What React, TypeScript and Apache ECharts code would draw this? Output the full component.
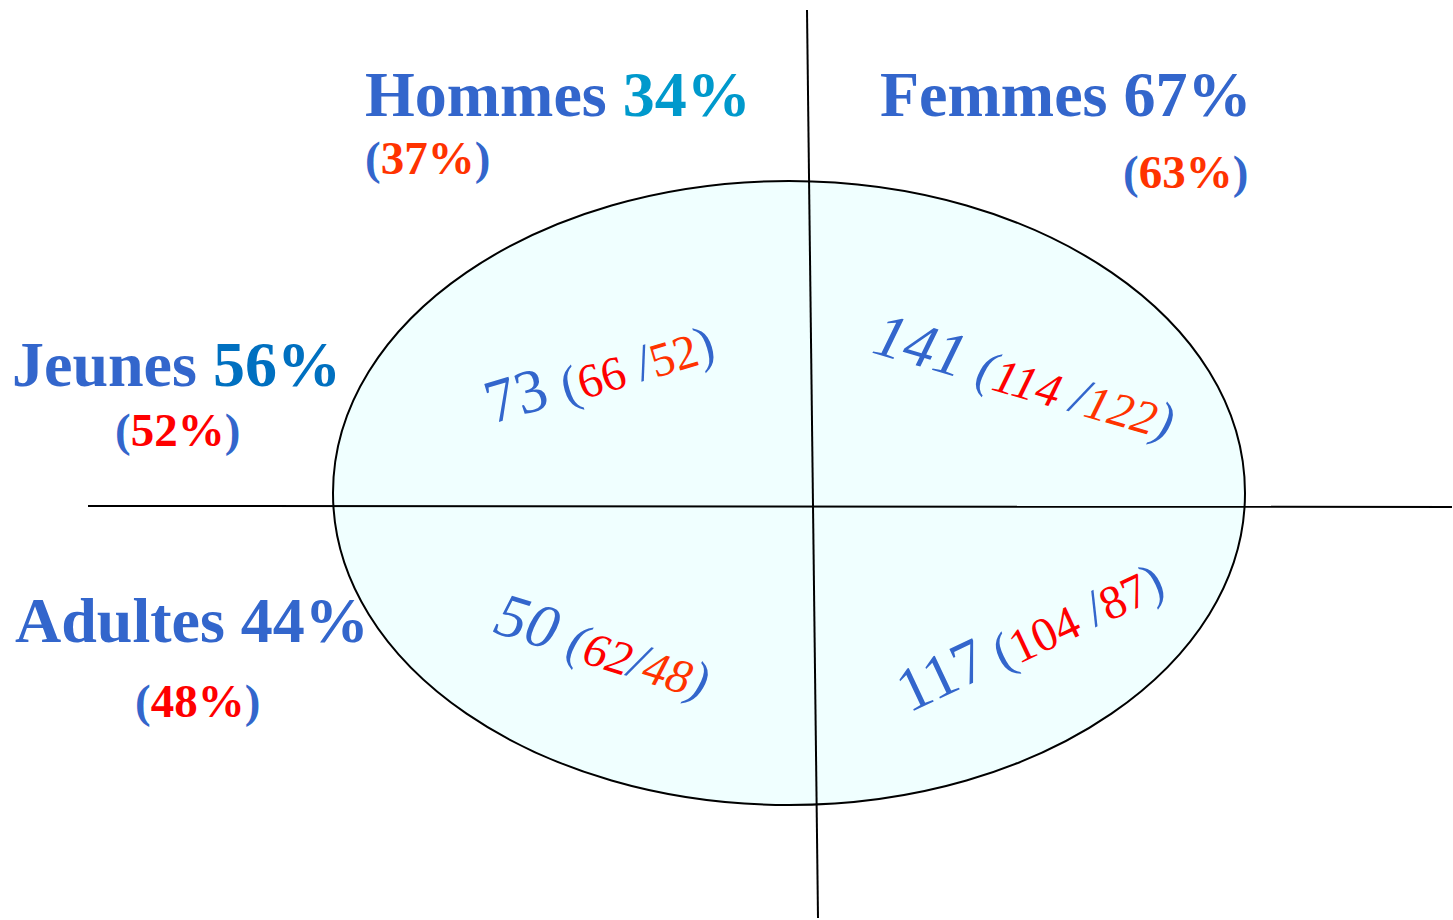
import React, { useEffect, useRef } from "react";
import * as echarts from "echarts";

// Data
const groupNames = ["Hommes", "Femmes", "Jeunes", "Adultes"];
const groupPct = [34, 67, 56, 44];
const groupPrevPct = [37, 63, 52, 48];
// Quadrants: Hommes-Jeunes, Femmes-Jeunes, Hommes-Adultes, Femmes-Adultes
const cellCounts = [73, 141, 50, 117];
const cellPrevA = [66, 114, 62, 104];
const cellPrevB = [52, 122, 48, 87];

const BLUE = "#3366CC";
const CYAN = "#0099CC";
const DBLUE = "#0070C0";
const RED = "#FF0000";
const ORANGE = "#FF3300";
const SERIF = "'Liberation Serif', 'Times New Roman', serif";

// layout (positions/styles)
const groupPos = [
  { x: 365, y: 94, px: 365, py: 158, pctColor: CYAN, prevColor: ORANGE },
  { x: 880, y: 94, px: 1123, py: 172, pctColor: BLUE, prevColor: ORANGE },
  { x: 12, y: 364, px: 115, py: 430, pctColor: DBLUE, prevColor: RED },
  { x: 15, y: 620, px: 135, py: 701, pctColor: BLUE, prevColor: RED },
];
const cellPos = [
  { x: 486, y: 404, rot: 0.29, italic: false, sep: " /", aColor: RED, bColor: ORANGE, gap: 60 },
  { x: 876, y: 332, rot: -0.28, italic: true, sep: " /", aColor: RED, bColor: ORANGE, gap: 60 },
  { x: 498, y: 612, rot: -0.3, italic: true, sep: "/", aColor: RED, bColor: ORANGE, gap: 56 },
  { x: 900, y: 694, rot: 0.44, italic: false, sep: " /", aColor: RED, bColor: RED, gap: 48 },
];

export default function App() {
  const ref = useRef<HTMLDivElement>(null);
  useEffect(() => {
    document.body.style.margin = "0";
    const chart = echarts.init(ref.current!, null, { renderer: "svg" });
    const elements: any[] = [];
    elements.push({
      type: "ellipse",
      shape: { cx: 789, cy: 493, rx: 456, ry: 312 },
      style: { fill: "#F0FFFF", stroke: "#000", lineWidth: 2 },
      z: 1,
    });
    elements.push({
      type: "line",
      shape: { x1: 88, y1: 506, x2: 1452, y2: 507 },
      style: { stroke: "#000", lineWidth: 2 },
      z: 2,
    });
    elements.push({
      type: "line",
      shape: { x1: 807, y1: 10, x2: 818, y2: 918 },
      style: { stroke: "#000", lineWidth: 2 },
      z: 2,
    });
    const GF = 64;
    const PF = 47;
    groupNames.forEach((name, i) => {
      const p = groupPos[i];
      elements.push({
        type: "text",
        x: p.x,
        y: p.y,
        z: 5,
        style: {
          text: `{n|${name} }{p|${groupPct[i]}%}`,
          textAlign: "left",
          textVerticalAlign: "middle",
          font: `bold ${GF}px ${SERIF}`,
          rich: {
            n: { fill: BLUE, fontSize: GF, fontWeight: "bold", fontFamily: SERIF },
            p: { fill: p.pctColor, fontSize: GF, fontWeight: "bold", fontFamily: SERIF },
          },
        },
      });
      elements.push({
        type: "text",
        x: p.px,
        y: p.py,
        z: 5,
        style: {
          text: `{b|(}{v|${groupPrevPct[i]}%}{b|)}`,
          textAlign: "left",
          textVerticalAlign: "middle",
          font: `bold ${PF}px ${SERIF}`,
          rich: {
            b: { fill: BLUE, fontSize: PF, fontWeight: "bold", fontFamily: SERIF },
            v: { fill: p.prevColor, fontSize: PF, fontWeight: "bold", fontFamily: SERIF },
          },
        },
      });
    });
    cellCounts.forEach((c, i) => {
      const p = cellPos[i];
      const fs = p.italic ? "italic" : "normal";
      const big = 62;
      const small = 48;
      elements.push({
        type: "text",
        x: p.x,
        y: p.y,
        rotation: p.rot,
        z: 5,
        style: {
          text: `{c|${c}}{s| }{b|(}{a|${cellPrevA[i]}}{b|${p.sep}}{d|${cellPrevB[i]}}{b|)}`,
          textAlign: "left",
          textVerticalAlign: "middle",
          font: `${fs} ${big}px ${SERIF}`,
          rich: {
            c: { fill: BLUE, fontSize: big, fontStyle: fs, fontFamily: SERIF, verticalAlign: "bottom" },
            s: { fill: BLUE, fontSize: p.gap, fontStyle: fs, fontFamily: SERIF, verticalAlign: "bottom" },
            b: { fill: BLUE, fontSize: small + 4, fontStyle: fs, fontFamily: SERIF, verticalAlign: "bottom" },
            a: { fill: p.aColor, fontSize: small, fontStyle: fs, fontFamily: SERIF, verticalAlign: "bottom" },
            d: { fill: p.bColor, fontSize: small, fontStyle: fs, fontFamily: SERIF, verticalAlign: "bottom" },
          },
        },
      });
    });
    chart.setOption({ animation: false, backgroundColor: "#fff", graphic: { elements } });
    return () => chart.dispose();
  }, []);
  return <div ref={ref} style={{ width: 1453, height: 920 }} />;
}
